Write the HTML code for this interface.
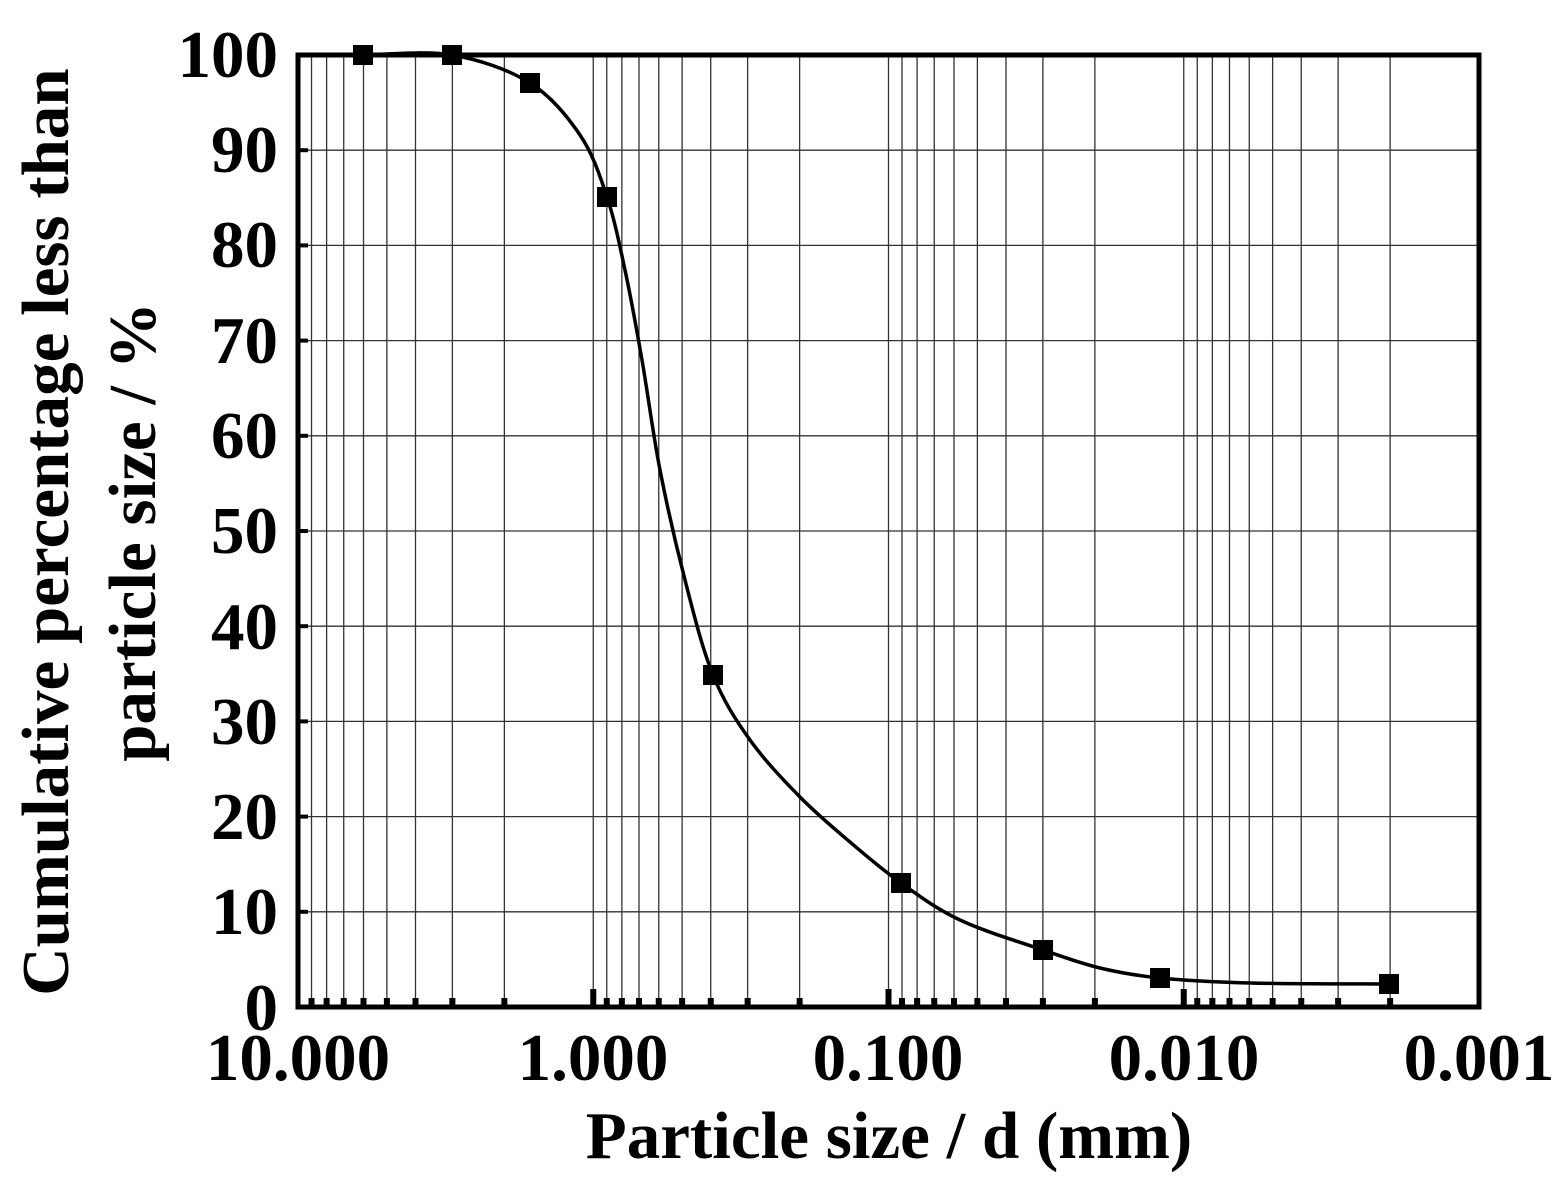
<!DOCTYPE html>
<html><head><meta charset="utf-8"><style>
html,body{margin:0;padding:0;background:#fff;}
svg{display:block;font-family:"Liberation Serif",serif;font-weight:bold;}
</style></head><body>
<svg id="s" width="1566" height="1195" viewBox="0 0 1566 1195" xmlns="http://www.w3.org/2000/svg">
<g id="grid"></g>
<path id="curve" fill="none" stroke="#000" stroke-width="3.5"/>
<g id="pts"></g>
<rect x="298" y="55" width="1181" height="952" fill="none" stroke="#000" stroke-width="5"/>
<g id="ticks"></g>
<g font-size="67" text-anchor="end">
<text x="278" y="77">100</text>
<text x="278" y="172">90</text>
<text x="278" y="267">80</text>
<text x="278" y="363">70</text>
<text x="278" y="458">60</text>
<text x="278" y="553">50</text>
<text x="278" y="649">40</text>
<text x="278" y="744">30</text>
<text x="278" y="839">20</text>
<text x="278" y="934">10</text>
<text x="278" y="1030">0</text>
</g>
<g font-size="67" text-anchor="middle">
<text x="298" y="1080">10.000</text>
<text x="593" y="1080">1.000</text>
<text x="888" y="1080">0.100</text>
<text x="1184" y="1080">0.010</text>
<text x="1479" y="1080">0.001</text>
</g>
<text x="889" y="1158" font-size="67" text-anchor="middle">Particle size / d (mm)</text>
<g font-size="67" text-anchor="middle">
<text transform="translate(68,532) rotate(-90)">Cumulative percentage less than</text>
<text transform="translate(155,532) rotate(-90)">particle size / %</text>
</g>
</svg>
<script>
var NS="http://www.w3.org/2000/svg";
function el(p,t,a){var e=document.createElementNS(NS,t);for(var k in a)e.setAttribute(k,a[k]);p.appendChild(e);return e;}
var g=document.getElementById('grid'),tk=document.getElementById('ticks');
var L=298,R=1479,T=55,B=1007,D=(R-L)/4;
for(var i=1;i<10;i++){var y=B-i*(B-T)/10;el(g,'line',{x1:L,x2:R,y1:y,y2:y,stroke:'#333','stroke-width':1.3});
el(tk,'line',{x1:L,x2:L+10,y1:y,y2:y,stroke:'#000','stroke-width':4});}
for(var d=0;d<4;d++){for(var k=2;k<=9;k++){var x=L+d*D+(1-Math.log10(k))*D;
el(g,'line',{x1:x,x2:x,y1:T,y2:B,stroke:'#333','stroke-width':1.3});
el(tk,'rect',{x:x-3,y:B-9,width:6,height:9,fill:'#000'});}
if(d>0){var x=L+d*D;el(g,'line',{x1:x,x2:x,y1:T,y2:B,stroke:'#333','stroke-width':1.3});
el(tk,'rect',{x:x-3,y:B-18,width:6,height:18,fill:'#000'});}}
var P=[[363,55],[452,55],[530,83],[580,135],[607,197],[625,270],[642,360],[660,470],[685,580],[713,675],[750,740],[800,797],[850,842],[901,883],[960,920],[1043,950],[1100,968],[1160,978],[1250,983],[1389,984]];
var dd="M"+P[0][0]+","+P[0][1];
for(var i=0;i<P.length-1;i++){var p0=P[Math.max(0,i-1)],p1=P[i],p2=P[i+1],p3=P[Math.min(P.length-1,i+2)];
dd+=" C"+(p1[0]+(p2[0]-p0[0])/6)+","+(p1[1]+(p2[1]-p0[1])/6)+" "+(p2[0]-(p3[0]-p1[0])/6)+","+(p2[1]-(p3[1]-p1[1])/6)+" "+p2[0]+","+p2[1];}
document.getElementById('curve').setAttribute('d',dd);
var M=[[363,55],[452,55],[530,83],[607,197],[713,675],[901,883],[1043,950],[1160,978],[1389,984]];
var pg=document.getElementById('pts');
M.forEach(function(m){el(pg,'rect',{x:m[0]-10,y:m[1]-10,width:20,height:20,fill:'#000'});});
</script>
</body></html>
